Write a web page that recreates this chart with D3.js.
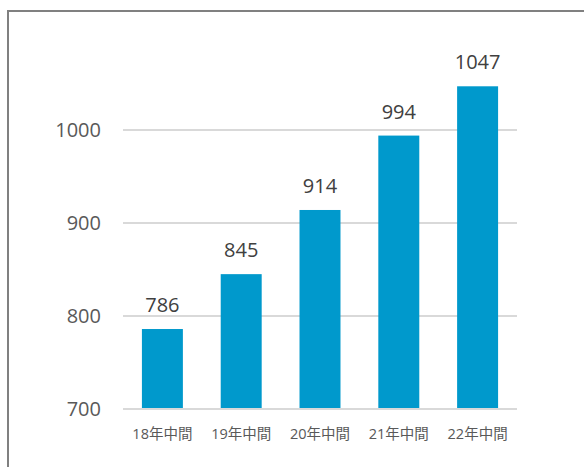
<!DOCTYPE html>
<html>
<head>
<meta charset="utf-8">
<script src="https://cdn.jsdelivr.net/npm/d3@7"></script>
<style>
  body { margin: 0; background: #fff; }
  svg { display: block; font-family: "Open Sans", "Noto Sans CJK JP", sans-serif; }
</style>
</head>
<body>
<div id="chart"></div>
<script>
const categories = ["18年中間", "19年中間", "20年中間", "21年中間", "22年中間"];
const values = [786, 845, 914, 994, 1047];
const yTicks = [700, 800, 900, 1000];

const width = 584;
const height = 467;

const svg = d3.select("#chart").append("svg")
    .attr("width", width)
    .attr("height", height);

// outer frame (right and bottom edges fall outside the picture)
svg.append("rect")
    .attr("x", 8)
    .attr("y", 11)
    .attr("width", 620)
    .attr("height", 500)
    .attr("fill", "#fff")
    .attr("stroke", "#808080")
    .attr("stroke-width", 2);

const x = d3.scaleBand()
    .domain(categories)
    .range([123, 517])
    .paddingInner(0.48)
    .paddingOuter(0.24);

const y = d3.scaleLinear()
    .domain([700, 1000])
    .range([409, 130]);

// gridlines
svg.append("g")
    .selectAll("line")
    .data(yTicks)
    .enter().append("line")
    .attr("x1", 123)
    .attr("x2", 517)
    .attr("y1", d => y(d))
    .attr("y2", d => y(d))
    .attr("stroke", "#d9d9d9")
    .attr("stroke-width", 2);

// y tick labels
svg.append("g")
    .selectAll("text")
    .data(yTicks)
    .enter().append("text")
    .attr("x", 101)
    .attr("y", d => y(d))
    .attr("dy", "0.36em")
    .attr("text-anchor", "end")
    .attr("fill", "#595959")
    .style("font-size", "20px")
    .text(d => d);

// bars
svg.append("g")
    .selectAll("rect")
    .data(values)
    .enter().append("rect")
    .attr("x", (d, i) => x(categories[i]))
    .attr("y", d => y(d))
    .attr("width", x.bandwidth())
    .attr("height", d => y(700) - y(d) - 1)
    .attr("fill", "#0099cc");

// value labels
svg.append("g")
    .selectAll("text")
    .data(values)
    .enter().append("text")
    .attr("x", (d, i) => x(categories[i]) + x.bandwidth() / 2)
    .attr("y", d => y(d) - 17)
    .attr("text-anchor", "middle")
    .attr("fill", "#404040")
    .style("font-size", "20px")
    .text(d => d);

// category labels
svg.append("g")
    .selectAll("text")
    .data(categories)
    .enter().append("text")
    .attr("x", d => x(d) + x.bandwidth() / 2)
    .attr("y", 439)
    .attr("text-anchor", "middle")
    .attr("fill", "#595959")
    .style("font-size", "14.5px")
    .text(d => d);
</script>
</body>
</html>
